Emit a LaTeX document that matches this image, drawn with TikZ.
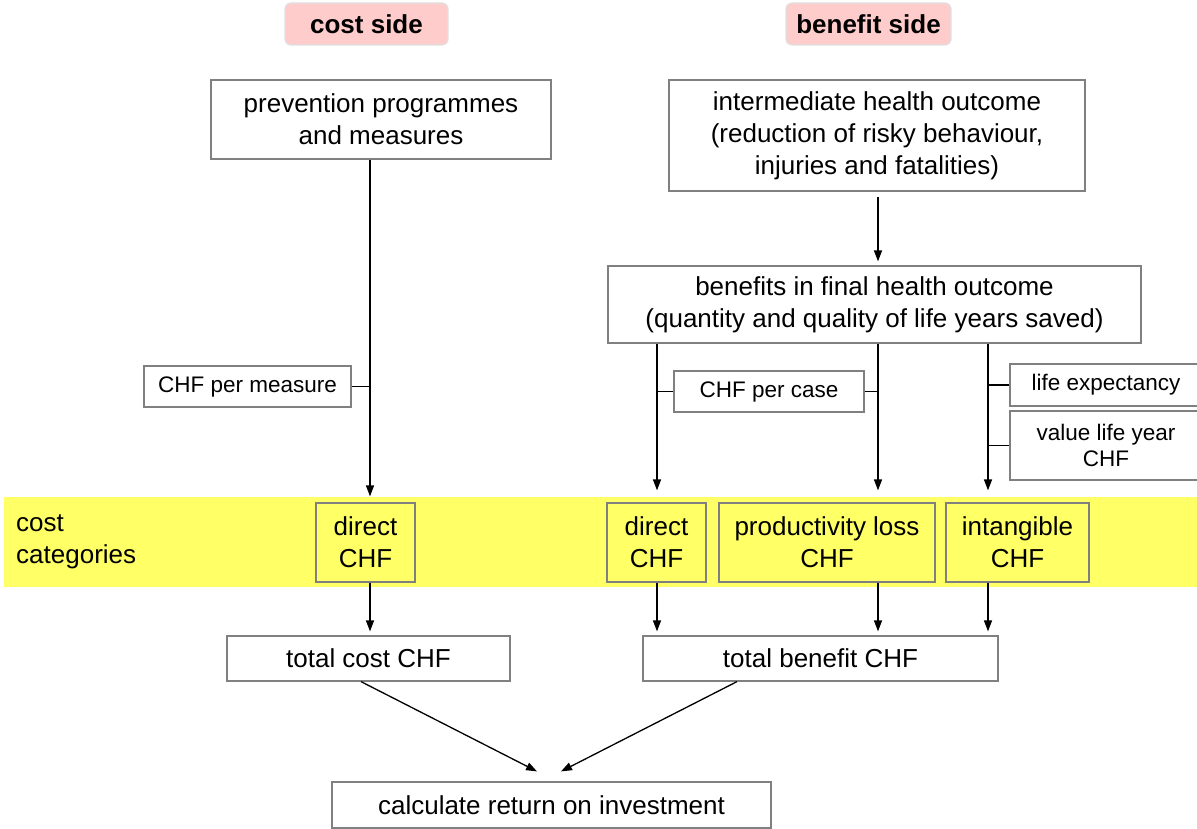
\documentclass[tikz,border=0pt]{standalone}
\usepackage{fontspec}
\setmainfont{Liberation Sans}
\usetikzlibrary{arrows.meta}

\definecolor{bandyellow}{HTML}{FFFF66}
\definecolor{sidepink}{HTML}{FFCCCC}
\definecolor{boxgray}{HTML}{808080}

\tikzset{
	box/.style={draw=boxgray, line width=1.2pt, inner sep=0pt, align=center, font=\fontsize{26}{32}\selectfont},
	smallbox/.style={box, font=\fontsize{22.5}{26}\selectfont},
	catbox/.style={box, fill=bandyellow},
	sidelabel/.style={draw=black!12, fill=sidepink, rounded corners=6pt, line width=1.2pt, inner sep=0pt, font=\bfseries\fontsize{26}{32}\selectfont},
	arr/.style={-{Triangle[length=11pt,width=8pt]}, line width=1.3pt},
	tick/.style={line width=1.3pt}
}

\begin{document}
\begin{tikzpicture}[x=1pt,y=-1pt]
		\useasboundingbox (0,0) rectangle (1197,829);
		
		% Columns of the vertical connectors
		\coordinate (colC) at (370,0);
		\coordinate (colD) at (657,0);
		\coordinate (colP) at (878,0);
		\coordinate (colI) at (988,0);
		
		% Headings of the two sides
		\node[sidelabel, minimum width=163pt, minimum height=42pt] (costside) at (366.5,24) {cost side};
		\node[sidelabel, minimum width=165pt, minimum height=42pt] (benefitside) at (868.5,24) {benefit side};
		
		% Cost categories band
		\fill[bandyellow] (4,497) rectangle (1197,587);
		\node[anchor=west, align=left, inner sep=6pt, font=\fontsize{26}{32}\selectfont] (catlabel) at (10,542) {cost\\categories};
		
		% Boxes on the cost side
		\node[box, minimum width=340pt, minimum height=79pt] (prev) at (381,119.5) {prevention programmes\\and measures};
		\node[smallbox, minimum width=207pt, minimum height=41pt] (permeasure) at (247.5,386.5) {CHF per measure};
		\node[catbox, minimum width=99pt, minimum height=79pt] (directC) at (365.5,542.5) {direct\\CHF};
		\node[box, minimum width=283pt, minimum height=45pt] (totalcost) at (368.5,658.5) {total cost CHF};
		
		% Boxes on the benefit side
		\node[box, minimum width=416pt, minimum height=111pt] (inter) at (877,135.5) {intermediate health outcome\\(reduction of risky behaviour,\\injuries and fatalities)};
		\node[box, minimum width=533pt, minimum height=77pt] (final) at (874.5,304.5) {benefits in final health outcome\\(quantity and quality of life years saved)};
		\node[smallbox, minimum width=190pt, minimum height=41pt] (percase) at (769,391.5) {CHF per case};
		\node[smallbox, minimum width=192pt, minimum height=42pt] (lifeexp) at (1106,385) {life expectancy};
		\node[smallbox, minimum width=192pt, minimum height=69pt] (valueyear) at (1106,445.5) {value life year\\CHF};
		\node[catbox, minimum width=99pt, minimum height=79pt] (directB) at (656.5,542.5) {direct\\CHF};
		\node[catbox, minimum width=216pt, minimum height=79pt] (prodloss) at (827,542.5) {productivity loss\\CHF};
		\node[catbox, minimum width=143pt, minimum height=79pt] (intang) at (1017.5,542.5) {intangible\\CHF};
		\node[box, minimum width=355pt, minimum height=45pt] (totalben) at (820.5,658.5) {total benefit CHF};
		
		% Final box
		\node[box, minimum width=439pt, minimum height=46pt] (roi) at (551.5,805) {calculate return on investment};
		
		% Cost side connectors
		\draw[arr, shorten >=6pt] (prev.south -| colC) -- (directC.north -| colC);
		\draw[tick] (permeasure.east) -- (permeasure.east -| colC);
		\draw[arr, shorten >=4pt] (directC.south -| colC) -- (totalcost.north -| colC);
		
		% Benefit side connectors
		\draw[arr, shorten <=5pt, shorten >=4pt] (inter.south -| colP) -- (final.north -| colP);
		\draw[arr, shorten >=12pt] (final.south -| colD) -- (directB.north -| colD);
		\draw[arr, shorten >=12pt] (final.south -| colP) -- (prodloss.north -| colP);
		\draw[arr, shorten >=12pt] (final.south -| colI) -- (intang.north -| colI);
		\draw[tick] (percase.west) -- (percase.west -| colD);
		\draw[tick] (percase.east) -- (percase.east -| colP);
		\draw[tick] (lifeexp.west) -- (lifeexp.west -| colI);
		\draw[tick] (valueyear.west) -- (valueyear.west -| colI);
		\draw[arr, shorten >=4pt] (directB.south -| colD) -- (totalben.north -| colD);
		\draw[arr, shorten >=4pt] (prodloss.south -| colP) -- (totalben.north -| colP);
		\draw[arr, shorten >=4pt] (intang.south -| colI) -- (totalben.north -| colI);
		
		% Both totals into the return on investment
		\draw[arr] ([xshift=-7.5pt]totalcost.south) -- ([xshift=-14.5pt,yshift=10pt]roi.north);
		\draw[arr] ([xshift=-83.5pt]totalben.south) -- ([xshift=9.5pt,yshift=10pt]roi.north);
	\end{tikzpicture}
\end{document}
